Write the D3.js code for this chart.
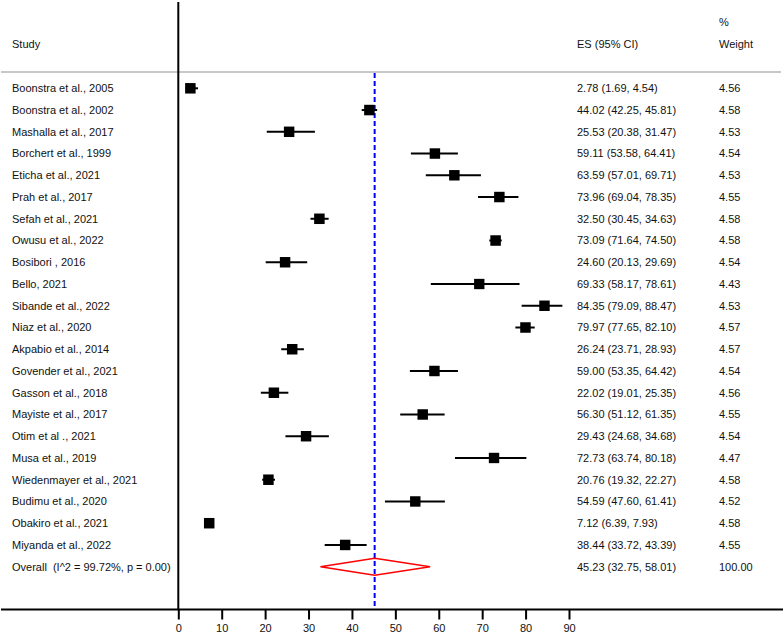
<!DOCTYPE html>
<html>
<head>
<meta charset="utf-8">
<script src="https://cdn.jsdelivr.net/npm/d3@7"></script>
<style>
  body { margin: 0; background: #fff; }
  text { font-family: "Liberation Sans", Arial, sans-serif; font-size: 11px; fill: #111; white-space: pre; }
</style>
</head>
<body>
<script>
// study data
var studies = ["Boonstra et al., 2005", "Boonstra et al., 2002", "Mashalla et al., 2017",
    "Borchert et al., 1999", "Eticha et al., 2021", "Prah et al., 2017", "Sefah et al., 2021",
    "Owusu et al., 2022", "Bosibori , 2016", "Bello, 2021", "Sibande et al., 2022",
    "Niaz et al., 2020", "Akpabio et al., 2014", "Govender et al., 2021", "Gasson et al., 2018",
    "Mayiste et al., 2017", "Otim et al ., 2021", "Musa et al., 2019", "Wiedenmayer et al., 2021",
    "Budimu et al., 2020", "Obakiro et al., 2021", "Miyanda et al., 2022"];
var es = [2.78, 44.02, 25.53, 59.11, 63.59, 73.96, 32.50, 73.09, 24.60, 69.33, 84.35,
    79.97, 26.24, 59.00, 22.02, 56.30, 29.43, 72.73, 20.76, 54.59, 7.12, 38.44];
var lo = [1.69, 42.25, 20.38, 53.58, 57.01, 69.04, 30.45, 71.64, 20.13, 58.17, 79.09,
    77.65, 23.71, 53.35, 19.01, 51.12, 24.68, 63.74, 19.32, 47.60, 6.39, 33.72];
var hi = [4.54, 45.81, 31.47, 64.41, 69.71, 78.35, 34.63, 74.50, 29.69, 78.61, 88.47,
    82.10, 28.93, 64.42, 25.35, 61.35, 34.68, 80.18, 22.27, 61.41, 7.93, 43.39];
var weight = [4.56, 4.58, 4.53, 4.54, 4.53, 4.55, 4.58, 4.58, 4.54, 4.43, 4.53,
    4.57, 4.57, 4.54, 4.56, 4.55, 4.54, 4.47, 4.58, 4.52, 4.58, 4.55];

var overallLabel = "Overall  (I^2 = 99.72%, p = 0.00)";
var overall = { es: 45.23, lo: 32.75, hi: 58.01, weight: 100.00 };
var xTicks = [0, 10, 20, 30, 40, 50, 60, 70, 80, 90];

var w = 784, h = 636;

var svg = d3.select("body").append("svg")
    .attr("width", w)
    .attr("height", h);

var x = d3.scaleLinear()
    .domain([0, 90])
    .range([178.3, 569]);

var y = d3.scalePoint()
    .domain(studies.concat([overallLabel]))
    .range([88.3, 566.7]);

var rows = studies.map(function (s, i) {
    return { study: s, es: es[i], lo: lo[i], hi: hi[i], weight: weight[i] };
});

var colStudy = 12, colES = 577, colW = 719;
var axisY = 609.5;

// headers
svg.append("text").attr("x", colStudy).attr("y", 44).attr("dy", "0.35em").text("Study");
svg.append("text").attr("x", colES).attr("y", 44).attr("dy", "0.35em").text("ES (95% CI)");
svg.append("text").attr("x", colW).attr("y", 22).attr("dy", "0.35em").text("%");
svg.append("text").attr("x", colW).attr("y", 44).attr("dy", "0.35em").text("Weight");

// header separator
svg.append("line")
    .attr("x1", 1).attr("x2", 781)
    .attr("y1", 72).attr("y2", 72)
    .style("stroke", "#c8c8c8")
    .style("stroke-width", 2);

// overall effect dashed line
svg.append("line")
    .attr("x1", x(overall.es)).attr("x2", x(overall.es))
    .attr("y1", 73).attr("y2", axisY)
    .style("stroke", "#0000ff")
    .style("stroke-width", 2)
    .style("stroke-dasharray", "5,3");

// null line (vertical at 0)
svg.append("line")
    .attr("x1", x(0)).attr("x2", x(0))
    .attr("y1", 2).attr("y2", axisY)
    .style("stroke", "#000")
    .style("stroke-width", 2);

// confidence intervals
svg.selectAll(".ci")
    .data(rows)
    .enter()
    .append("line")
    .attr("class", "ci")
    .attr("x1", function (d) { return x(d.lo); })
    .attr("x2", function (d) { return x(d.hi); })
    .attr("y1", function (d) { return y(d.study); })
    .attr("y2", function (d) { return y(d.study); })
    .style("stroke", "#000")
    .style("stroke-width", 2);

// weight boxes
function side(wt) { return 10.5 * Math.sqrt(wt / 4.58); }

svg.selectAll(".box")
    .data(rows)
    .enter()
    .append("rect")
    .attr("class", "box")
    .attr("x", function (d) { return x(d.es) - side(d.weight) / 2; })
    .attr("y", function (d) { return y(d.study) - side(d.weight) / 2; })
    .attr("width", function (d) { return side(d.weight); })
    .attr("height", function (d) { return side(d.weight); })
    .style("fill", "#000");

// overall diamond
var oy = y(overallLabel);
svg.append("polygon")
    .attr("points", [
        [x(overall.lo), oy],
        [x(overall.es), oy - 8.5],
        [x(overall.hi), oy],
        [x(overall.es), oy + 8.5]
    ].map(function (p) { return p.join(","); }).join(" "))
    .style("fill", "none")
    .style("stroke", "#ff0000")
    .style("stroke-width", 1.6);

// text columns
var fmt = d3.format(".2f");
var allRows = rows.concat([{ study: overallLabel, es: overall.es, lo: overall.lo, hi: overall.hi, weight: overall.weight }]);

svg.selectAll(".study")
    .data(allRows)
    .enter()
    .append("text")
    .attr("class", "study")
    .attr("x", colStudy)
    .attr("y", function (d) { return y(d.study); })
    .attr("dy", "0.35em")
    .text(function (d) { return d.study; });

svg.selectAll(".esText")
    .data(allRows)
    .enter()
    .append("text")
    .attr("class", "esText")
    .attr("x", colES)
    .attr("y", function (d) { return y(d.study); })
    .attr("dy", "0.35em")
    .text(function (d) { return fmt(d.es) + " (" + fmt(d.lo) + ", " + fmt(d.hi) + ")"; });

svg.selectAll(".wText")
    .data(allRows)
    .enter()
    .append("text")
    .attr("class", "wText")
    .attr("x", colW)
    .attr("y", function (d) { return y(d.study); })
    .attr("dy", "0.35em")
    .text(function (d) { return fmt(d.weight); });

// x axis
svg.append("line")
    .attr("x1", 1).attr("x2", 783)
    .attr("y1", axisY).attr("y2", axisY)
    .style("stroke", "#000")
    .style("stroke-width", 2);

var xAxis = d3.axisBottom(x)
    .tickValues(xTicks)
    .tickSize(10)
    .tickPadding(5)
    .tickFormat(d3.format("d"));

var axis = svg.append("g")
    .attr("class", "axis")
    .attr("transform", "translate(0," + axisY + ")")
    .call(xAxis);

axis.select(".domain").remove();
axis.selectAll(".tick line").style("stroke", "#000").style("stroke-width", 2);
axis.selectAll(".tick text")
    .style("font-family", "'Liberation Sans', Arial, sans-serif")
    .style("font-size", "11px")
    .style("fill", "#111");
</script>
</body>
</html>
